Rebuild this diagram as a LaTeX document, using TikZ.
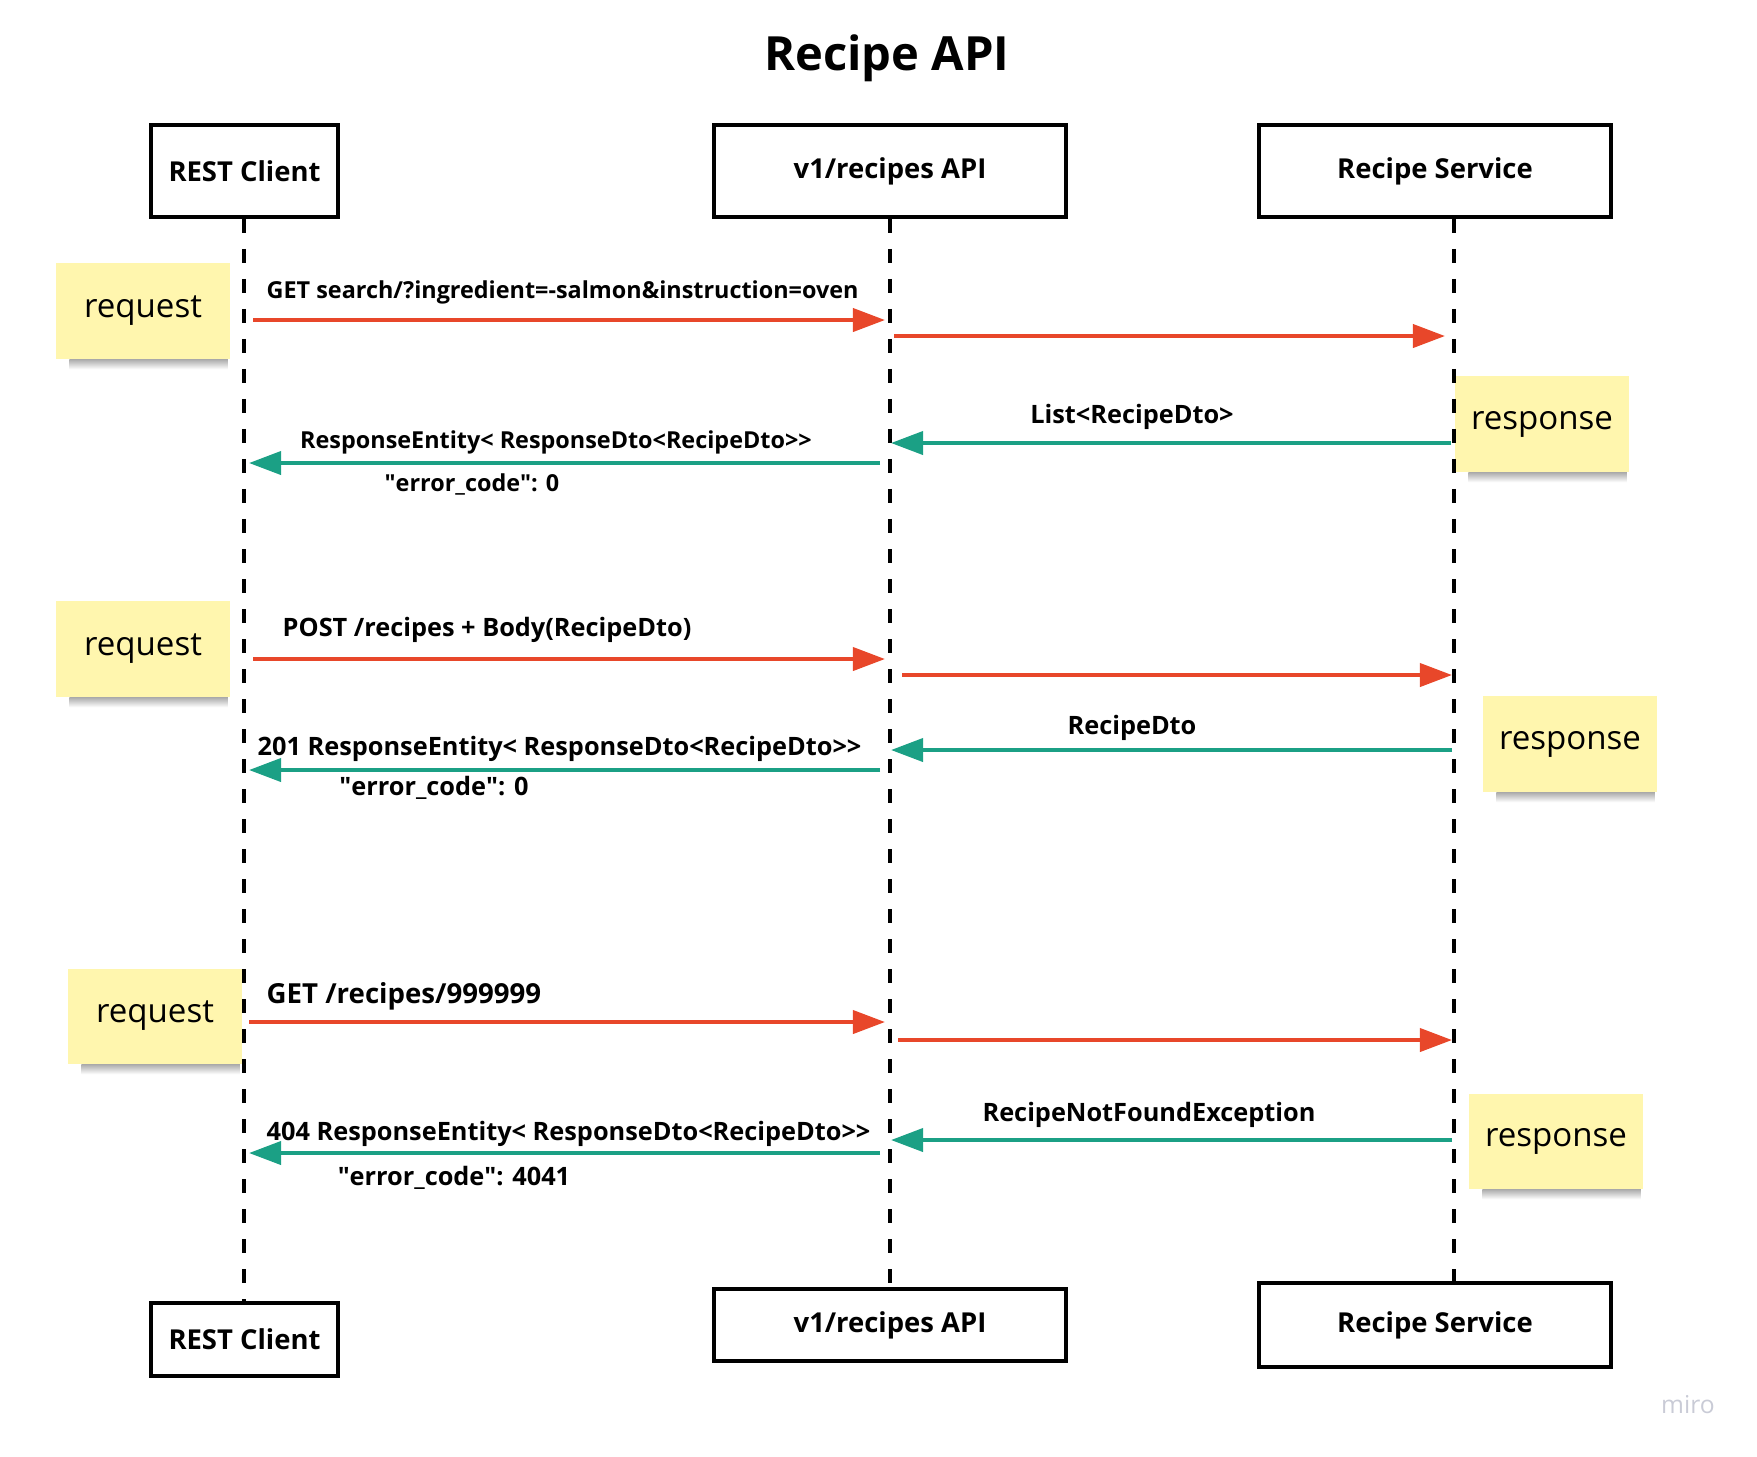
\documentclass[tikz,border=0pt]{standalone}
\usepackage{fontspec}
\setmainfont{Open Sans}
\usetikzlibrary{arrows.meta,positioning}

\definecolor{reqred}{HTML}{E8472A}
\definecolor{resteal}{HTML}{1BA085}
\definecolor{stickyyellow}{HTML}{FFF6AE}
\definecolor{mirogray}{HTML}{C9CBD6}

\tikzset{
    actor/.style={draw, line width=1pt, minimum height=0.92cm, inner sep=0pt,
        font=\fontsize{7.8}{9}\selectfont\bfseries},
    lifeline/.style={line width=1.2pt, dash pattern=on 0.14cm off 0.16cm},
    sticky/.style={fill=stickyyellow, minimum width=1.74cm, minimum height=0.95cm,
        font=\fontsize{9.4}{11}\selectfont},
    req/.style={reqred, line width=1.1pt, -{Triangle[length=0.32cm, width=0.23cm]}},
    res/.style={resteal, line width=1.1pt, -{Triangle[length=0.32cm, width=0.23cm]}},
    msg/.style={inner sep=0pt, font=\fontsize{7.2}{8}\selectfont\bfseries},
    msgsmall/.style={inner sep=0pt, font=\fontsize{6.65}{8}\selectfont\bfseries}
}

\begin{document}
\begin{tikzpicture}[x=0.01cm, y=-0.01cm]
    \useasboundingbox (0, 0) rectangle (1757, 1456);

    % title
    \node[font=\fontsize{13.4}{15}\selectfont\bfseries] (title) at (887, 58) {Recipe API};

    % sticky notes
    \node[sticky] (req1) at (143, 311) {request};
    \node[sticky] (res1) at (1542, 424) {response};
    \node[sticky] (req2) at (143, 649) {request};
    \node[sticky] (res2) at (1570, 744) {response};
    \node[sticky] (req3) at (155, 1016) {request};
    \node[sticky] (res3) at (1556, 1141) {response};
    \foreach \s in {req1, res1, req2, res2, req3, res3}
        \shade[top color=black!60, bottom color=white, opacity=0.55]
            ([xshift=0.14cm]\s.south west) rectangle ([xshift=-0.03cm, yshift=-0.1cm]\s.south east);

    % lifeline columns
    \coordinate (clientline) at (244, 0);
    \coordinate (apiline) at (890, 0);
    \coordinate (svcline) at (1454, 0);

    % participants
    \node[actor, minimum width=1.87cm] (clienttop) at (244.5, 171) {REST Client};
    \node[actor, minimum width=3.52cm] (apitop) at (890, 171) {v1/recipes API};
    \node[actor, minimum width=3.52cm] (svctop) at (1435, 171) {Recipe Service};
    \node[actor, minimum width=1.87cm, minimum height=0.73cm] (clientbot) at (244.5, 1339.5) {REST Client};
    \node[actor, minimum width=3.52cm, minimum height=0.72cm] (apibot) at (890, 1325) {v1/recipes API};
    \node[actor, minimum width=3.52cm, minimum height=0.84cm] (svcbot) at (1435, 1325) {Recipe Service};

    \draw[lifeline] (clienttop.south -| clientline) -- (clientbot.north -| clientline);
    \draw[lifeline] (apitop.south -| apiline) -- (apibot.north -| apiline);
    \draw[lifeline] (svctop.south -| svcline) -- (svcbot.north -| svcline);

    % messages
    \foreach \n/\sty/\xa/\xb/\y in {1/req/253/885/320, 2/req/894/1445/336,
            3/res/1451/891/443, 4/res/880/249/463,
            5/req/253/885/659, 6/req/902/1452/675,
            7/res/1452/891/750, 8/res/880/249/770,
            9/req/249/885/1022, 10/req/898/1452/1040,
            11/res/1452/891/1140, 12/res/880/249/1153}
        {\coordinate (m\n a) at (\xa, \y);
        \coordinate (m\n b) at (\xb, \y);
        \draw[\sty] (m\n a) -- (m\n b);}

    \node[msgsmall, anchor=west] (l1) at (266, 292) {GET search/?ingredient=-salmon\&instruction=oven};
    \node[msg] (l3) at (1132, 417) {List<RecipeDto>};
    \node[msgsmall] (l4) at (556, 442) {ResponseEntity< ResponseDto<RecipeDto>{}>};
    \node[msgsmall] (l4b) at (472, 484) {\textquotedbl error\_code\textquotedbl: 0};

    \node[msg, anchor=west] (l5) at (282, 630) {POST /recipes + Body(RecipeDto)};
    \node[msg] (l7) at (1132, 728) {RecipeDto};
    \node[msg, anchor=west] (l8) at (257, 749) {201 ResponseEntity< ResponseDto<RecipeDto>{}>};
    \node[msg] (l8b) at (434, 788) {\textquotedbl error\_code\textquotedbl: 0};

    \node[msg, font=\fontsize{7.85}{9}\selectfont\bfseries, anchor=west] (l9) at (266, 996) {GET /recipes/999999};
    \node[msg] (l11) at (1149, 1115) {RecipeNotFoundException};
    \node[msg, anchor=west] (l12) at (266, 1134) {404 ResponseEntity< ResponseDto<RecipeDto>{}>};
    \node[msg] (l12b) at (454, 1178) {\textquotedbl error\_code\textquotedbl: 4041};

    \node[mirogray, font=\fontsize{7}{8}\selectfont] (miro) at (1688, 1405) {miro};
\end{tikzpicture}
\end{document}
